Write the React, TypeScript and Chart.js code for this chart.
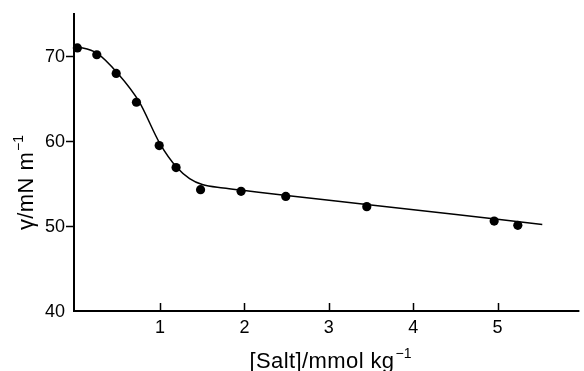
import React, { useEffect, useRef } from "react";
import { Chart, registerables } from "chart.js";

Chart.register(...registerables);

// Measured points
const saltConc = [0.02, 0.25, 0.48, 0.72, 0.99, 1.19, 1.48, 1.96, 2.49, 3.45, 4.96, 5.24];
const surfaceTension = [71.0, 70.2, 68.0, 64.6, 59.5, 56.9, 54.3, 54.1, 53.5, 52.3, 50.6, 50.1];

// Fitted curve
const fitX = [0, 0.25, 0.5, 0.75, 1.0, 1.2, 1.35, 1.5, 1.75, 2.0, 2.5, 3.5, 5.0, 5.53];
const fitY = [71.2, 70.4, 68.0, 64.7, 59.7, 56.9, 55.6, 54.9, 54.5, 54.2, 53.6, 52.5, 50.8, 50.2];

// Tick labels
const xTicks = [1, 2, 3, 4, 5];
const yTicks = [40, 50, 60, 70];

const xTitle = "[Salt]/mmol kg";
const yTitle = "γ/mN m";
const titleSup = "−1";

const FONT = '"Liberation Sans", Arial, Helvetica, sans-serif';

const axesPlugin = {
  id: "customAxes",
  beforeDatasetsDraw(chart: any) {
    const { ctx, chartArea } = chart;
    const xs = chart.scales.x;
    const ys = chart.scales.y;
    ctx.save();
    ctx.strokeStyle = "#000";
    ctx.lineWidth = 2;
    ctx.beginPath();
    ctx.moveTo(chartArea.left, chartArea.top - 1);
    ctx.lineTo(chartArea.left, chartArea.bottom + 1);
    ctx.moveTo(chartArea.left - 1, chartArea.bottom);
    ctx.lineTo(chartArea.right, chartArea.bottom);
    ctx.stroke();
    ctx.lineWidth = 1.5;
    ctx.beginPath();
    for (const v of yTicks) {
      if (v === ys.min) continue;
      const py = Math.round(ys.getPixelForValue(v)) + 0.5;
      ctx.moveTo(chartArea.left - 8, py);
      ctx.lineTo(chartArea.left, py);
    }
    for (const v of xTicks) {
      const px = Math.round(xs.getPixelForValue(v)) + 0.5;
      ctx.moveTo(px, chartArea.bottom);
      ctx.lineTo(px, chartArea.bottom - 8);
    }
    ctx.stroke();
    ctx.restore();
  },
  afterDraw(chart: any) {
    const { ctx, chartArea } = chart;
    const xs = chart.scales.x;
    const ys = chart.scales.y;
    ctx.save();
    ctx.fillStyle = "#000";
    ctx.font = `18px ${FONT}`;
    ctx.textAlign = "right";
    ctx.textBaseline = "middle";
    for (const v of yTicks) {
      const py = ys.getPixelForValue(v);
      ctx.fillText(String(v), chartArea.left - 9, py + 1);
    }
    ctx.textAlign = "center";
    ctx.textBaseline = "top";
    for (const v of xTicks) {
      const px = xs.getPixelForValue(v);
      ctx.fillText(String(v), px, chartArea.bottom + 8);
    }

    const drawTitle = (main: string, cx: number, baseY: number) => {
      ctx.font = `22px ${FONT}`;
      (ctx as any).letterSpacing = "0.4px";
      const w1 = ctx.measureText(main).width;
      ctx.font = `14px ${FONT}`;
      (ctx as any).letterSpacing = "0px";
      const w2 = ctx.measureText(titleSup).width;
      const start = cx - (w1 + w2) / 2;
      ctx.textAlign = "left";
      ctx.textBaseline = "alphabetic";
      ctx.font = `22px ${FONT}`;
      (ctx as any).letterSpacing = "0.4px";
      ctx.fillText(main, start, baseY);
      ctx.font = `14px ${FONT}`;
      (ctx as any).letterSpacing = "0px";
      ctx.fillText(titleSup, start + w1 + 1, baseY - 10);
    };

    drawTitle(xTitle, 330, 368);

    ctx.save();
    ctx.translate(33, 183);
    ctx.rotate(-Math.PI / 2);
    drawTitle(yTitle, 0, 0);
    ctx.restore();

    ctx.restore();
  },
};

export default function App() {
  const canvasRef = useRef<HTMLCanvasElement | null>(null);

  useEffect(() => {
    if (!canvasRef.current) return;
    const chart = new Chart(canvasRef.current, {
      type: "scatter",
      data: {
        datasets: [
          {
            type: "line",
            data: fitX.map((x, i) => ({ x, y: fitY[i] })),
            borderColor: "#000",
            borderWidth: 1.5,
            pointRadius: 0,
            cubicInterpolationMode: "monotone",
            fill: false,
            clip: false as any,
          },
          {
            type: "scatter",
            data: saltConc.map((x, i) => ({ x, y: surfaceTension[i] })),
            backgroundColor: "#000",
            borderColor: "#000",
            borderWidth: 0,
            pointRadius: 4.6,
            clip: false as any,
          },
        ],
      },
      options: {
        animation: false,
        responsive: false,
        layout: { padding: { left: 74, right: 0, top: 14, bottom: 60 } },
        plugins: { legend: { display: false }, tooltip: { enabled: false } },
        scales: {
          x: { type: "linear", min: -0.02, max: 5.97, display: false },
          y: { type: "linear", min: 40, max: 75, display: false },
        },
      },
      plugins: [axesPlugin],
    });
    return () => chart.destroy();
  }, []);

  return (
    <div style={{ position: "absolute", left: 0, top: 0, width: 584, height: 371, background: "#fff" }}>
      <canvas ref={canvasRef} width={584} height={371} style={{ display: "block" }} />
    </div>
  );
}
